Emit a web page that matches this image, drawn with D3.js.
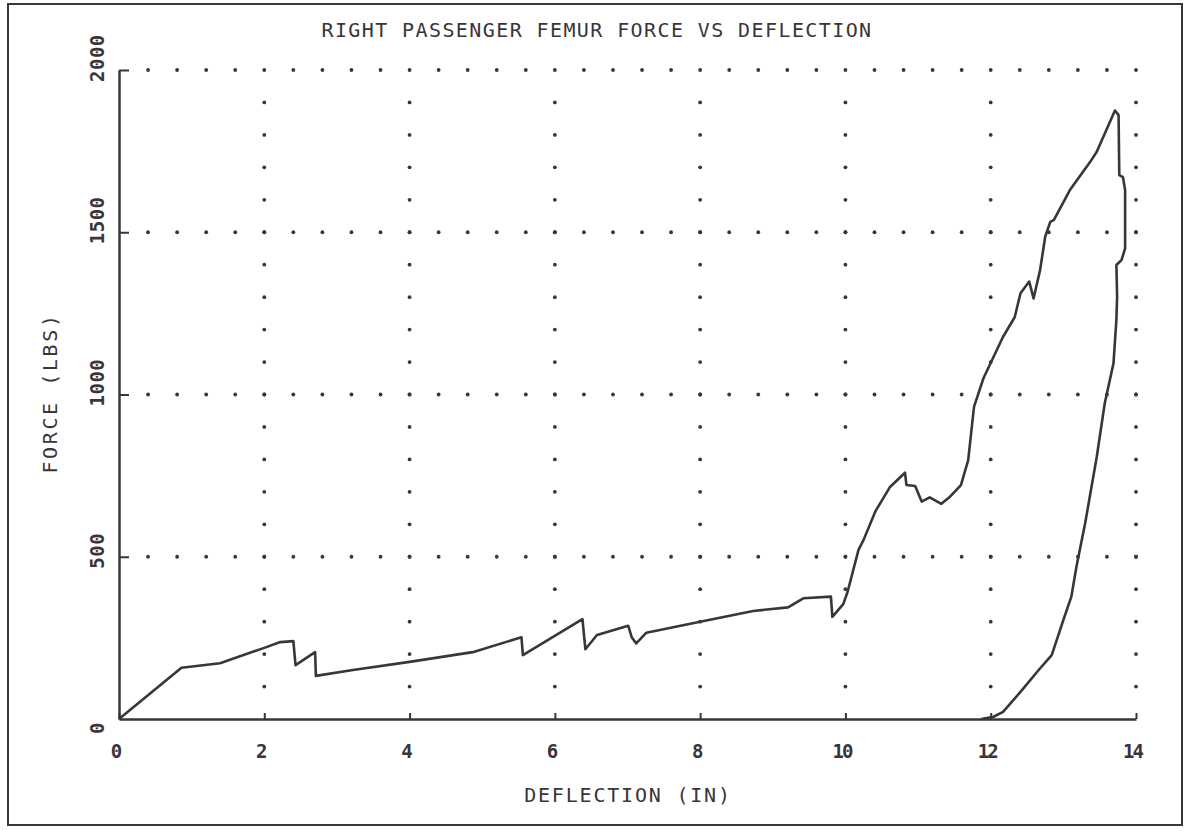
<!DOCTYPE html>
<html>
<head>
<meta charset="utf-8">
<script src="https://cdn.jsdelivr.net/npm/d3@7"></script>
<style>
  body { margin: 0; background: #fff; }
  svg text { font-family: "DejaVu Sans Mono", "Liberation Mono", monospace; fill: #3b3438; font-weight: bold; }
</style>
</head>
<body>
<svg id="chart" width="1190" height="831"></svg>
<script>
// deflection (in) / force (lbs), loading then unloading
const deflection = [0, 0.86, 1.39, 2.01, 2.22, 2.40, 2.43, 2.70, 2.71, 3.22, 4.0, 4.87, 5.54, 5.56,
  6.38, 6.42, 6.58, 7.01, 7.06, 7.12, 7.26, 8.0, 8.73, 9.21, 9.42, 9.80, 9.82, 9.97, 10.03, 10.18,
  10.25, 10.41, 10.61, 10.82, 10.84, 10.96, 11.05, 11.16, 11.32, 11.44, 11.59, 11.69, 11.77, 11.90,
  12.17, 12.33, 12.41, 12.53, 12.59, 12.68, 12.75, 12.82, 12.87, 13.09, 13.37, 13.46, 13.71, 13.76,
  13.77, 13.82, 13.85, 13.85, 13.80, 13.73, 13.74, 13.73, 13.69, 13.57, 13.46, 13.30, 13.18, 13.11,
  13.0, 12.84, 12.66, 12.43, 12.17, 12.04, 11.87];
const force = [0, 158, 172, 220, 237, 240, 166, 206, 133, 151, 176, 206, 252, 197,
  308, 215, 259, 287, 251, 233, 266, 300, 333, 344, 372, 377, 315, 354, 392, 521,
  552, 639, 714, 759, 721, 718, 670, 683, 663, 685, 721, 798, 962, 1050,
  1178, 1238, 1312, 1348, 1296, 1384, 1486, 1532, 1538, 1630, 1717, 1748, 1875, 1861,
  1676, 1670, 1630, 1450, 1414, 1399, 1301, 1230, 1096, 973, 808, 603, 469, 377,
  305, 197, 151, 89, 22, 7, 0];
const xTicks = [0, 2, 4, 6, 8, 10, 12, 14];
const yTicks = [0, 500, 1000, 1500, 2000];

const ink = "#3b3438";
const svg = d3.select("#chart");

const x = d3.scaleLinear().domain([0, 14]).range([119, 1136]);
const y = d3.scaleLinear().domain([0, 2000]).range([719, 70]);

// page frame
svg.append("rect")
    .attr("x", 8).attr("y", 4).attr("width", 1174).attr("height", 821)
    .attr("fill", "none").attr("stroke", ink).attr("stroke-width", 2);

// dotted grid
const grid = svg.append("g").attr("fill", ink);
yTicks.filter(v => v > 0).forEach(v => {
    grid.selectAll(null)
        .data(d3.range(1, 36).map(k => k * 0.4))
        .enter().append("circle")
        .attr("cx", d => x(d)).attr("cy", y(v)).attr("r", 1.9);
});
xTicks.filter(v => v > 0).forEach(v => {
    grid.selectAll(null)
        .data(d3.range(1, 20).map(k => k * 100))
        .enter().append("circle")
        .attr("cx", x(v)).attr("cy", d => y(d)).attr("r", 1.9);
});

// axes
const xAxis = svg.append("g")
    .attr("transform", `translate(0,${y(0)})`)
    .call(d3.axisBottom(x).tickValues(xTicks).tickSizeInner(-6).tickSizeOuter(0).tickPadding(26));
const yAxis = svg.append("g")
    .attr("transform", `translate(${x(0)},0)`)
    .call(d3.axisLeft(y).tickValues(yTicks.filter(v => v > 0)).tickSizeInner(-10).tickSizeOuter(0).tickFormat(""));
[xAxis, yAxis].forEach(a => {
    a.select(".domain").attr("stroke", ink).attr("stroke-width", 2.5);
    a.selectAll(".tick line").attr("stroke", ink).attr("stroke-width", 2);
});
xAxis.selectAll(".tick text")
    .attr("x", -4)
    .style("font-size", "19px").style("letter-spacing", "-2px")
    .style("font-family", "DejaVu Sans Mono").attr("fill", ink);

// y tick labels, rotated, drawn upward from just below each tick
svg.selectAll(".ylab")
    .data(yTicks)
    .enter().append("text")
    .attr("class", "ylab")
    .attr("transform", d => d === 0 ? `translate(104,728) rotate(-90)` : `translate(104,${y(d) + 12}) rotate(-90)`)
    .attr("text-anchor", d => d === 0 ? "middle" : "start")
    .style("font-size", "19px")
    .style("letter-spacing", "0.5px")
    .text(d => d);

// titles
svg.append("text")
    .attr("x", 597).attr("y", 37)
    .attr("text-anchor", "middle")
    .style("font-size", "20px").style("letter-spacing", "1.4px").style("font-weight", "normal")
    .text("RIGHT PASSENGER FEMUR FORCE VS DEFLECTION");
svg.append("text")
    .attr("x", 628).attr("y", 802)
    .attr("text-anchor", "middle")
    .style("font-size", "20px").style("letter-spacing", "1.8px").style("font-weight", "normal")
    .text("DEFLECTION (IN)");
svg.append("text")
    .attr("transform", "translate(57,393) rotate(-90)")
    .attr("text-anchor", "middle")
    .style("font-size", "20px").style("letter-spacing", "2.6px").style("font-weight", "normal")
    .text("FORCE (LBS)");

// curve
const pts = deflection.map((d, i) => [d, force[i]]);
svg.append("path")
    .datum(pts)
    .attr("fill", "none")
    .attr("stroke", ink)
    .attr("stroke-width", 2.6)
    .attr("stroke-linejoin", "round")
    .attr("d", d3.line().x(d => x(d[0])).y(d => y(d[1])));
</script>
</body>
</html>
